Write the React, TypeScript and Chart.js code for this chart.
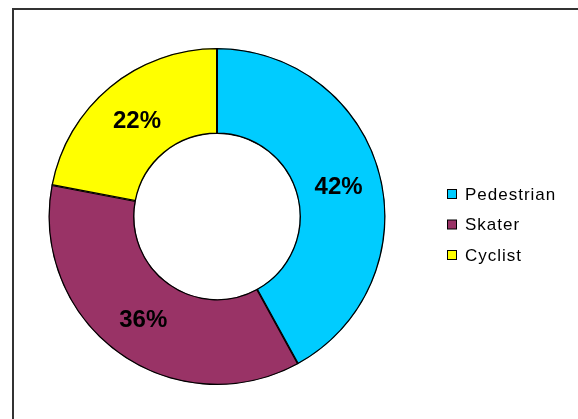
import React, { useEffect, useRef } from "react";
import { Chart, registerables } from "chart.js";

Chart.register(...registerables);

const categories = ["Pedestrian", "Skater", "Cyclist"];
const values = [42, 36, 22];
const labelsText = ["42%", "36%", "22%"];
const colors = ["#00CCFF", "#993366", "#FFFF00"];

const overlayPlugin = {
  id: "overlay",
  afterDraw(chart: any) {
    const ctx = chart.ctx;
    const meta = chart.getDatasetMeta(0);
    ctx.save();
    // percentage labels
    ctx.fillStyle = "#000";
    ctx.font = "bold 24px 'Liberation Sans', Arial, sans-serif";
    ctx.textAlign = "center";
    ctx.textBaseline = "middle";
    meta.data.forEach((arc: any, i: number) => {
      const { x, y, startAngle, endAngle, innerRadius, outerRadius } = arc.getProps(
        ["x", "y", "startAngle", "endAngle", "innerRadius", "outerRadius"],
        true
      );
      const mid = (startAngle + endAngle) / 2;
      const r = (innerRadius + outerRadius) / 2;
      ctx.fillText(labelsText[i], x + Math.cos(mid) * r, y + Math.sin(mid) * r + 2);
    });
    // legend
    ctx.font = "17px 'Liberation Sans', Arial, sans-serif";
    ctx.textAlign = "left";
    ctx.textBaseline = "middle";
    try {
      (ctx as any).letterSpacing = "1px";
    } catch (e) {}
    categories.forEach((c, i) => {
      const cy = 194 + i * 30.5;
      ctx.fillStyle = colors[i];
      ctx.fillRect(447.5, cy - 4.5, 9, 9);
      ctx.strokeStyle = "#000";
      ctx.lineWidth = 1;
      ctx.strokeRect(447.5, cy - 4.5, 9, 9);
      ctx.fillStyle = "#000";
      ctx.fillText(c, 465, cy + 1);
    });
    ctx.restore();
  },
};

export default function App() {
  const ref = useRef<HTMLCanvasElement>(null);
  useEffect(() => {
    const chart = new Chart(ref.current!, {
      type: "doughnut",
      data: {
        labels: categories,
        datasets: [
          {
            data: values,
            backgroundColor: colors,
            borderColor: "#000",
            borderWidth: 1,
            borderAlign: "inner",
          } as any,
        ],
      },
      options: {
        animation: false,
        responsive: false,
        cutout: "49%",
        layout: { padding: { left: 48.5, right: 192.5, top: 48, bottom: 34 } },
        plugins: {
          legend: { display: false },
          tooltip: { enabled: false },
        },
      },
      plugins: [overlayPlugin],
    });
    return () => chart.destroy();
  }, []);
  return (
    <div>
      <div
        style={{
          position: "fixed",
          left: 12,
          top: 8,
          width: 700,
          height: 600,
          border: "2px solid #333",
          background: "#fff",
        }}
      />
      <canvas
        ref={ref}
        width={578}
        height={419}
        style={{ position: "fixed", left: 0, top: 0, width: 578, height: 419 }}
      />
    </div>
  );
}
